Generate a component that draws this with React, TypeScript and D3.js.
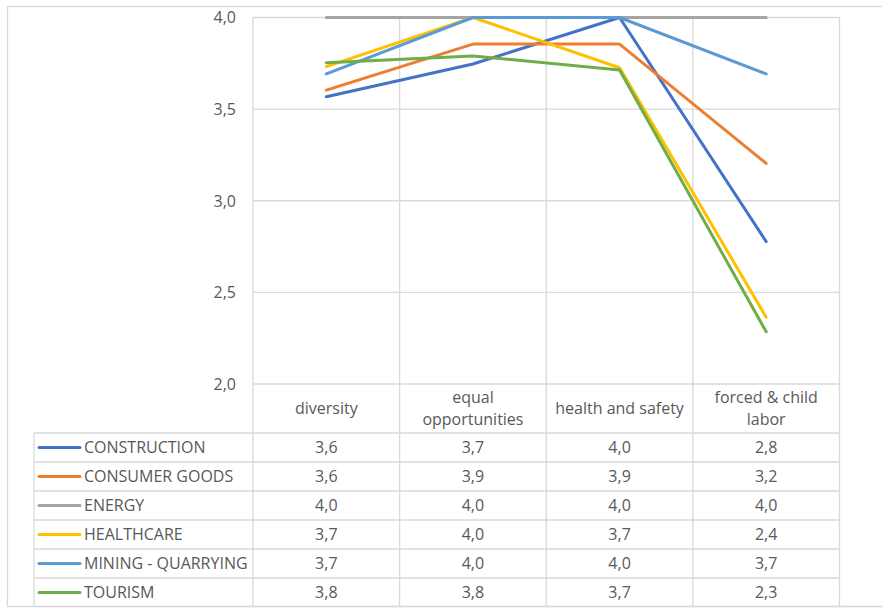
import React from "react";
import * as d3 from "d3";

const categories = ["diversity", "equal opportunities", "health and safety", "forced & child labor"];
const categoryLines = [["diversity"], ["equal", "opportunities"], ["health and safety"], ["forced & child", "labor"]];
const seriesNames = ["CONSTRUCTION", "CONSUMER GOODS", "ENERGY", "HEALTHCARE", "MINING - QUARRYING", "TOURISM"];
const seriesColors = ["#4472C4", "#ED7D31", "#A5A5A5", "#FFC000", "#5B9BD5", "#70AD47"];
const construction = [3.568, 3.746, 4.0, 2.777];
const consumerGoods = [3.604, 3.855, 3.855, 3.204];
const energy = [4.0, 4.0, 4.0, 4.0];
const healthcare = [3.732, 4.0, 3.726, 2.364];
const mining = [3.692, 4.0, 4.0, 3.692];
const tourism = [3.753, 3.79, 3.714, 2.285];
const seriesValues = [construction, consumerGoods, energy, healthcare, mining, tourism];
const yTicks = [2.0, 2.5, 3.0, 3.5, 4.0];

const W = 882;
const H = 608;
const FONT = "'Open Sans', sans-serif";
const TXT = "#595959";
const GRID = "#D9D9D9";

export default function App() {
  const plotLeft = 253;
  const plotRight = 839.5;
  const plotTop = 17.5;
  const plotBottom = 384;
  const tableBottom = 607;
  const legendLeft = 34;

  const x = d3.scaleBand<string>().domain(categories).range([plotLeft, plotRight]);
  const y = d3.scaleLinear().domain([2, 4]).range([plotBottom, plotTop]);
  const rows = d3.scaleBand<string>().domain(seriesNames).range([433, tableBottom]);
  const fmt = (v: number) => d3.format(".1f")(v).replace(".", ",");

  const line = d3
    .line<number>()
    .x((_, i) => (x(categories[i]) as number) + x.bandwidth() / 2)
    .y((v) => y(v));

  const boundaries = [plotLeft, ...categories.map((c) => (x(c) as number) + x.bandwidth())];

  return (
    <svg width={W} height={H} style={{ position: "absolute", left: 0, top: 0, background: "#fff" }} fontFamily={FONT}>
      {/* outer chart border */}
      <rect x={7.5} y={6.5} width={900} height={600} fill="none" stroke={GRID} strokeWidth={1.3} />

      {/* horizontal gridlines */}
      {yTicks.map((t) => (
        <line key={t} x1={plotLeft} x2={plotRight} y1={y(t)} y2={y(t)} stroke={GRID} strokeWidth={1.3} />
      ))}
      {/* vertical category lines through plot and table */}
      {boundaries.map((b, i) => (
        <line key={i} x1={b} x2={b} y1={plotTop} y2={tableBottom} stroke={GRID} strokeWidth={1.3} />
      ))}
      {/* table horizontal lines */}
      {seriesNames.map((s) => (
        <line key={s} x1={legendLeft} x2={plotRight} y1={rows(s) as number} y2={rows(s) as number} stroke={GRID} strokeWidth={1.3} />
      ))}
      <line x1={legendLeft} x2={W} y1={tableBottom - 0.5} y2={tableBottom - 0.5} stroke={GRID} strokeWidth={1.3} />
      <line x1={legendLeft} x2={legendLeft} y1={433} y2={tableBottom} stroke={GRID} strokeWidth={1.3} />

      {/* y tick labels */}
      {yTicks.map((t) => (
        <text key={t} x={236} y={y(t)} dy="0.36em" textAnchor="end" fontSize={16} fill={TXT}>
          {fmt(t)}
        </text>
      ))}

      {/* category header labels */}
      {categories.map((c, i) => {
        const cx = (x(c) as number) + x.bandwidth() / 2;
        const ls = categoryLines[i];
        const cy = (plotBottom + 433) / 2;
        return (
          <text key={c} x={cx} textAnchor="middle" fontSize={16} fill={TXT}>
            {ls.map((l, j) => (
              <tspan key={j} x={cx} y={cy + (j - (ls.length - 1) / 2) * 22} dy="0.36em">
                {l}
              </tspan>
            ))}
          </text>
        );
      })}

      {/* series lines */}
      {seriesValues.map((vals, i) => (
        <path
          key={seriesNames[i]}
          d={line(vals) as string}
          fill="none"
          stroke={seriesColors[i]}
          strokeWidth={3}
          strokeLinejoin="round"
          strokeLinecap="round"
        />
      ))}

      {/* table rows */}
      {seriesNames.map((s, i) => {
        const cy = (rows(s) as number) + rows.bandwidth() / 2;
        return (
          <g key={s}>
            <line x1={39} x2={80} y1={cy} y2={cy} stroke={seriesColors[i]} strokeWidth={3} strokeLinecap="round" />
            <text x={84} y={cy} dy="0.36em" fontSize={16} fill={TXT}>
              {s}
            </text>
            {seriesValues[i].map((v, j) => (
              <text
                key={j}
                x={(x(categories[j]) as number) + x.bandwidth() / 2}
                y={cy}
                dy="0.36em"
                textAnchor="middle"
                fontSize={16}
                fill={TXT}
              >
                {fmt(v)}
              </text>
            ))}
          </g>
        );
      })}
    </svg>
  );
}
